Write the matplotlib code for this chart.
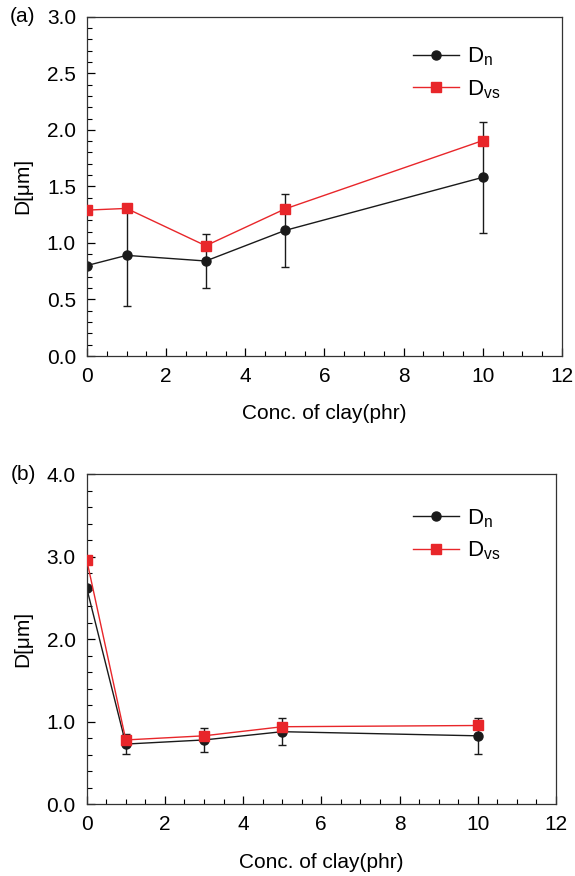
import matplotlib
matplotlib.use("Agg")
import matplotlib.pyplot as plt
from matplotlib.ticker import MultipleLocator, FormatStrFormatter
from matplotlib.lines import Line2D

plt.rcParams['font.family'] = ['Liberation Sans', 'DejaVu Sans']
plt.rcParams['mathtext.fontset'] = 'custom'
plt.rcParams['mathtext.rm'] = 'Liberation Sans'

conc = [0, 1, 3, 5, 10]

# Panel (a)
dn_a = [0.80, 0.89, 0.84, 1.11, 1.58]
dn_a_err = [0.0, 0.45, 0.24, 0.32, 0.49]
dvs_a = [1.29, 1.305, 0.975, 1.30, 1.905]

# Panel (b)
dn_b = [2.62, 0.73, 0.78, 0.88, 0.83]
dn_b_err = [0.0, 0.125, 0.145, 0.167, 0.22]
dvs_b = [2.96, 0.78, 0.83, 0.94, 0.955]

xlabel = "Conc. of clay(phr)"
ylabel = "D[μm]"
lbl_n = r"D$_\mathregular{n}$"
lbl_vs = r"D$_\mathregular{vs}$"

fig = plt.figure(figsize=(5.75, 8.76), dpi=100)
ax_a = fig.add_axes([0.1513, 0.5936, 0.826, 0.3873])
ax_b = fig.add_axes([0.1508, 0.0818, 0.816, 0.377])

RED = '#e8262a'
BLK = '#1a1a1a'

def draw(ax, dn, dn_err, dvs, ymax, ymajor, yminor, panel, leg_xy):
    ax.errorbar(conc, dn, yerr=dn_err, color=BLK, lw=1.0, marker='o',
                ms=6.5, capsize=3, elinewidth=1.0, capthick=1.0, zorder=2)
    ax.plot(conc, dvs, color=RED, lw=1.0, marker='s', ms=6.5, zorder=3)
    ax.set_xlim(0, 12)
    ax.set_ylim(0, ymax)
    ax.xaxis.set_major_locator(MultipleLocator(2))
    ax.xaxis.set_minor_locator(MultipleLocator(0.5))
    ax.yaxis.set_major_locator(MultipleLocator(ymajor))
    ax.yaxis.set_minor_locator(MultipleLocator(yminor))
    ax.yaxis.set_major_formatter(FormatStrFormatter('%.1f'))
    ax.tick_params(which='both', direction='in', top=False, right=False, labelsize=15)
    ax.tick_params(which='major', length=6, width=0.9, pad=8)
    ax.tick_params(which='minor', length=3.5, width=0.8)
    for s in ax.spines.values():
        s.set_linewidth(0.9)
        s.set_color('#333333')
    ax.set_xlabel(xlabel, fontsize=15, labelpad=13)
    ax.set_ylabel(ylabel, fontsize=15, labelpad=10)
    handles = [Line2D([], [], color=BLK, lw=1.0, marker='o', ms=6.5),
               Line2D([], [], color=RED, lw=1.0, marker='s', ms=6.5)]
    ax.legend(handles, [lbl_n, lbl_vs], loc='upper left', bbox_to_anchor=leg_xy,
              frameon=False, fontsize=16, handlelength=2.1, handletextpad=0.35,
              labelspacing=0.45, borderpad=0, borderaxespad=0)
    ax.text(-0.135, 1.0, panel, transform=ax.transAxes, fontsize=15,
            ha='center', va='center')

draw(ax_a, dn_a, dn_a_err, dvs_a, 3.0, 0.5, 0.1, '(a)', (0.686, 0.915))
draw(ax_b, dn_b, dn_b_err, dvs_b, 4.0, 1.0, 0.2, '(b)', (0.695, 0.9))

fig.savefig('out.png', dpi=100)
